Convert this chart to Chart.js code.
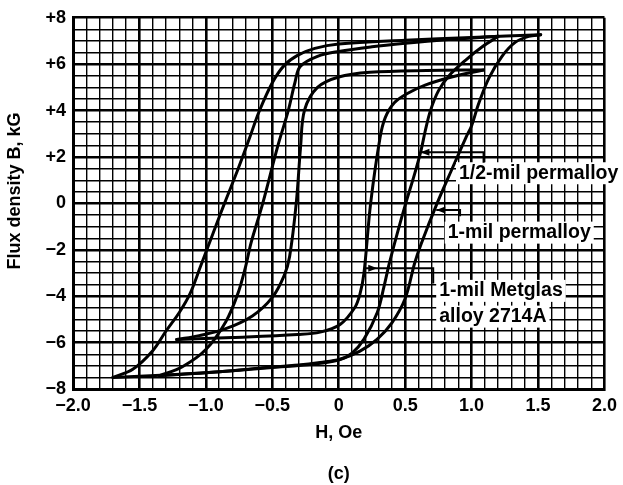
<!DOCTYPE html>
<html>
<head>
<meta charset="utf-8">
<script src="https://cdn.jsdelivr.net/npm/chart.js@4/dist/chart.umd.min.js"></script>
<style>
html,body{margin:0;padding:0;background:#fff;}
#wrap{width:623px;height:485px;position:relative;}
</style>
</head>
<body>
<div id="wrap"><canvas id="c" width="623" height="485"></canvas></div>
<script>
// ---- axis ticks ----
const xTickValues = [-2.0, -1.5, -1.0, -0.5, 0, 0.5, 1.0, 1.5, 2.0];
const xTickLabels = ['−2.0', '−1.5', '−1.0', '−0.5', '0', '0.5', '1.0', '1.5', '2.0'];
const yTickValues = [-8, -6, -4, -2, 0, 2, 4, 6, 8];
const yTickLabels = ['−8', '−6', '−4', '−2', '0', '+2', '+4', '+6', '+8'];

// ---- 1-mil permalloy (outer loop) ----
const mil1DownH = [1.52, 1.0, 0.5, 0.0, -0.18, -0.31, -0.41, -0.5, -0.6, -0.67, -0.76, -0.86, -0.95, -1.04, -1.12, -1.2, -1.3, -1.4, -1.55, -1.70];
const mil1DownB = [7.27, 7.15, 7.03, 6.87, 6.68, 6.38, 5.95, 5.2, 3.95, 2.84, 1.45, 0, -1.35, -2.71, -3.9, -4.7, -5.5, -6.35, -7.15, -7.5];
const mil1UpH = [-1.70, -1.3, -0.93, -0.6, -0.3, -0.14, 0.01, 0.16, 0.29, 0.4, 0.5, 0.57, 0.62, 0.74, 0.85, 0.957, 1.0, 1.05, 1.13, 1.23, 1.33, 1.43, 1.52];
const mil1UpB = [-7.5, -7.4, -7.27, -7.1, -6.97, -6.86, -6.72, -6.37, -5.85, -5.15, -4.1, -2.6, -1.75, 0, 1.45, 2.84, 3.35, 4.25, 5.4, 6.35, 6.95, 7.2, 7.27];

// ---- 1/2-mil permalloy (middle loop) ----
const halfDownH = [1.2, 0.8, 0.5, 0.25, 0.0, -0.16, -0.29, -0.33, -0.38, -0.46, -0.572, -0.66, -0.70, -0.76, -0.85, -1.0, -1.18, -1.35];
const halfDownB = [7.2, 7.05, 6.9, 6.75, 6.55, 6.34, 5.9, 5.2, 4.0, 2.45, 0, -1.7, -2.7, -3.9, -5.1, -6.3, -7.05, -7.42];
const halfUpH = [-1.35, -1.0, -0.5, -0.2, 0.0, 0.1, 0.19, 0.29, 0.34, 0.38, 0.44, 0.504, 0.57, 0.62, 0.65, 0.69, 0.75, 0.83, 0.96, 1.08, 1.2];
const halfUpB = [-7.42, -7.3, -7.07, -6.93, -6.75, -6.45, -5.85, -4.7, -3.6, -2.6, -1.3, 0, 1.25, 2.3, 3.1, 4.0, 4.85, 5.5, 6.2, 6.75, 7.2];

// ---- 1-mil Metglas alloy 2714A (inner square loop) ----
const metDownH = [1.09, 0.66, 0.235, 0.0, -0.16, -0.257, -0.287, -0.32, -0.37, -0.41, -0.5, -0.65, -0.85, -1.05, -1.22];
const metDownB = [5.75, 5.73, 5.65, 5.45, 5.0, 4.03, 2.45, 0, -2.3, -3.1, -4.05, -4.85, -5.4, -5.7, -5.87];
const metUpH = [-1.22, -0.8, -0.31, -0.14, 0.01, 0.12, 0.16, 0.19, 0.24, 0.311, 0.35, 0.42, 0.52, 0.65, 0.85, 1.09];
const metUpB = [-5.87, -5.78, -5.65, -5.55, -5.22, -4.5, -3.9, -3.0, 0, 2.84, 3.7, 4.35, 4.75, 5.1, 5.45, 5.75];

// ---- annotation texts ----
const labelTexts = ['1/2-mil permalloy', '1-mil permalloy', '1-mil Metglas', 'alloy 2714A'];

const FONT = '"Liberation Sans", Arial, Helvetica, sans-serif';

function pts(hs, bs) { return hs.map((h, i) => ({x: h, y: bs[i]})); }
function branch(hs, bs) {
  return {data: pts(hs, bs), showLine: true, borderColor: '#000', borderWidth: 3,
          pointRadius: 0, tension: 0.35, fill: false, borderCapStyle: 'round', borderJoinStyle: 'round'};
}
function near(list, v) { return list.findIndex(t => Math.abs(t - v) < 1e-6); }

// annotation placement (data units)
const labelAnchors = [
  {h: 0.905, b: 1.30},
  {h: 0.82, b: -1.26},
  {h: 0.756, b: -3.77},
  {h: 0.756, b: -4.88}
];
const leaders = [
  {path: [[0.615, 2.2], [1.09, 2.2], [1.09, 1.75]], head: [0.615, 2.2], dir: -1},
  {path: [[0.734, -0.28], [0.913, -0.28], [0.913, -0.55]], head: [0.734, -0.28], dir: -1},
  {path: [[0.19, -2.79], [0.711, -2.79], [0.711, -3.45]], head: [0.29, -2.79], dir: 1}
];

const annotPlugin = {
  id: 'annot',
  afterDatasetsDraw(chart) {
    const {ctx, scales: {x, y}} = chart;
    ctx.save();
    ctx.font = 'bold 19.5px ' + FONT;
    ctx.textBaseline = 'middle';
    ctx.textAlign = 'left';
    labelTexts.forEach((t, i) => {
      const px = x.getPixelForValue(labelAnchors[i].h);
      const py = y.getPixelForValue(labelAnchors[i].b);
      const w = ctx.measureText(t).width;
      ctx.fillStyle = '#fff';
      ctx.fillRect(px - 3, py - 11, w + 6, 22);
      ctx.fillStyle = '#000';
      ctx.fillText(t, px, py);
    });
    ctx.strokeStyle = '#000';
    ctx.fillStyle = '#000';
    ctx.lineWidth = 2;
    leaders.forEach(l => {
      ctx.beginPath();
      l.path.forEach((p, i) => {
        const px = x.getPixelForValue(p[0]), py = y.getPixelForValue(p[1]);
        if (i === 0) ctx.moveTo(px, py); else ctx.lineTo(px, py);
      });
      ctx.stroke();
      const hx = x.getPixelForValue(l.head[0]), hy = y.getPixelForValue(l.head[1]);
      ctx.beginPath();
      ctx.moveTo(hx, hy);
      ctx.lineTo(hx - l.dir * 9, hy - 3.5);
      ctx.lineTo(hx - l.dir * 9, hy + 3.5);
      ctx.closePath();
      ctx.fill();
    });
    ctx.restore();
  }
};

const tickFont = {family: FONT, size: 18, weight: 'bold'};

new Chart(document.getElementById('c'), {
  type: 'scatter',
  data: {
    datasets: [
      branch(mil1DownH, mil1DownB), branch(mil1UpH, mil1UpB),
      branch(halfDownH, halfDownB), branch(halfUpH, halfUpB),
      branch(metDownH, metDownB), branch(metUpH, metUpB)
    ]
  },
  options: {
    responsive: false,
    animation: false,
    devicePixelRatio: 1,
    layout: {padding: {left: 0, right: 13, top: 14, bottom: 0}},
    plugins: {
      legend: {display: false},
      tooltip: {enabled: false},
      title: {display: false}
    },
    scales: {
      x: {
        type: 'linear', min: -2, max: 2,
        afterFit(s) { s.height = 96; },
        ticks: {
          stepSize: 0.1, autoSkip: false, maxRotation: 0, minRotation: 0, padding: 6, color: '#000', font: tickFont,
          callback: v => { const i = near(xTickValues, v); return i >= 0 ? xTickLabels[i] : ''; }
        },
        grid: {color: '#000', drawTicks: false,
               lineWidth: c => (near(xTickValues, c.tick.value) >= 0 ? 2.6 : 1.4)},
        border: {color: '#000', width: 3},
        title: {display: true, text: ['H, Oe', '', '(c)'], color: '#000',
                font: {family: FONT, size: 18, weight: 'bold', lineHeight: 1.14},
                padding: {top: 0, bottom: 1}}
      },
      y: {
        type: 'linear', min: -8, max: 8,
        afterFit(s) { s.width = 73; },
        ticks: {
          stepSize: 0.5, autoSkip: false, padding: 7, color: '#000', font: tickFont,
          callback: v => { const i = near(yTickValues, v); return i >= 0 ? yTickLabels[i] : ''; }
        },
        grid: {color: '#000', drawTicks: false,
               lineWidth: c => (near(yTickValues, c.tick.value) >= 0 ? 2.6 : 1.4)},
        border: {color: '#000', width: 3},
        title: {display: true, text: '     Flux density B, kG', color: '#000', font: {family: FONT, size: 18, weight: 'bold'},
                padding: {top: 4, bottom: 0}}
      }
    }
  },
  plugins: [annotPlugin]
});
</script>
</body>
</html>
